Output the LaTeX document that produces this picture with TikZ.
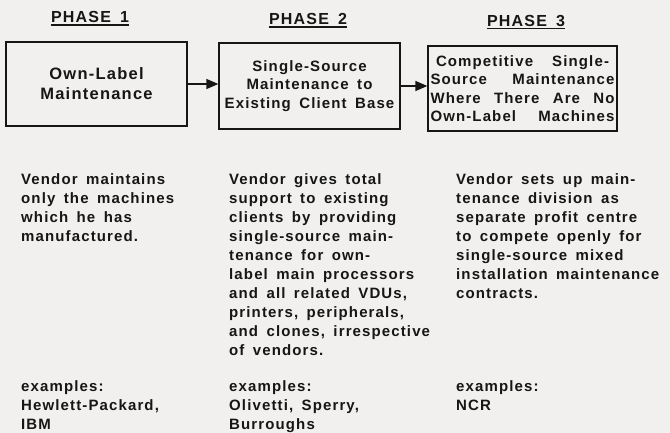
\documentclass[tikz,border=0pt]{standalone}
\usepackage{fontspec}
\setmainfont{Liberation Sans}[BoldFont={Liberation Sans Bold}, LetterSpace=7.5, WordSpace=1.6]
\usetikzlibrary{arrows.meta}
\definecolor{paper}{RGB}{241,240,238}
\definecolor{ink}{RGB}{22,22,22}
\tikzset{
  phasehead/.style={anchor=base, inner sep=0pt, text=ink, font=\fontsize{16}{20}\selectfont\bfseries},
  phasebox/.style={draw=ink, line width=1.3pt, inner sep=0pt, align=center, text=ink, font=\fontsize{15}{18.5}\selectfont\bfseries},
  desc/.style={anchor=north west, inner sep=0pt, align=left, text=ink, font=\fontsize{15}{19}\selectfont\bfseries},
  flow/.style={draw=ink, line width=1.3pt, -{Triangle[length=12pt,width=10pt]}}
}
\newcommand{\fitline}[2]{\makebox[#1][s]{#2}}

\begin{document}
\begin{tikzpicture}[x=1pt, y=-1pt]
  \fill[paper] (0,0) rectangle (670,433);
  \useasboundingbox (0,0) rectangle (670,433);
  % phase headings
  \node[phasehead] (head1) at (90,23) {PHASE 1};
  \node[phasehead] (head2) at (308,25) {PHASE 2};
  \node[phasehead] (head3) at (526,26.5) {PHASE 3};
  \foreach \h in {head1,head2,head3}
    \draw[ink, line width=1.2pt] ([yshift=-2pt]\h.base west) -- ([yshift=-2pt]\h.base east);
  % the three stages
  \node[phasebox, minimum width=181pt, minimum height=84pt, font=\fontsize{16.5}{20}\selectfont\bfseries] (box1) at (96.5,84) {Own-Label\\Maintenance};
  \node[phasebox, minimum width=181pt, minimum height=86pt] (box2) at (309.5,86) {Single-Source\\Maintenance to\\Existing Client Base};
  \node[phasebox, minimum width=189pt, minimum height=85pt] (box3) at (522.5,88.5)
    {\fitline{173pt}{Competitive Single-}\\\fitline{184pt}{Source Maintenance}\\\fitline{184pt}{Where There Are No}\\\fitline{184pt}{Own-Label Machines}};
  \draw[flow] (box1.east) -- (box1.east -| box2.west);
  \draw[flow] (box2.east) -- (box2.east -| box3.west);
  % descriptions
  \node[desc] (text1) at (21,173.5) {Vendor maintains\\only the machines\\which he has\\manufactured.};
  \node[desc] (text2) at (229,173.5) {Vendor gives total\\support to existing\\clients by providing\\single-source main-\\tenance for own-\\label main processors\\and all related VDUs,\\printers, peripherals,\\and clones, irrespective\\of vendors.};
  \node[desc] (text3) at (456,173.5) {Vendor sets up main-\\tenance division as\\separate profit centre\\to compete openly for\\single-source mixed\\installation maintenance\\contracts.};
  % examples
  \node[desc] (ex1) at (21,380) {examples:\\Hewlett-Packard,\\IBM};
  \node[desc] (ex2) at (229,380) {examples:\\Olivetti, Sperry,\\Burroughs};
  \node[desc] (ex3) at (456,380) {examples:\\NCR};
\end{tikzpicture}
\end{document}
